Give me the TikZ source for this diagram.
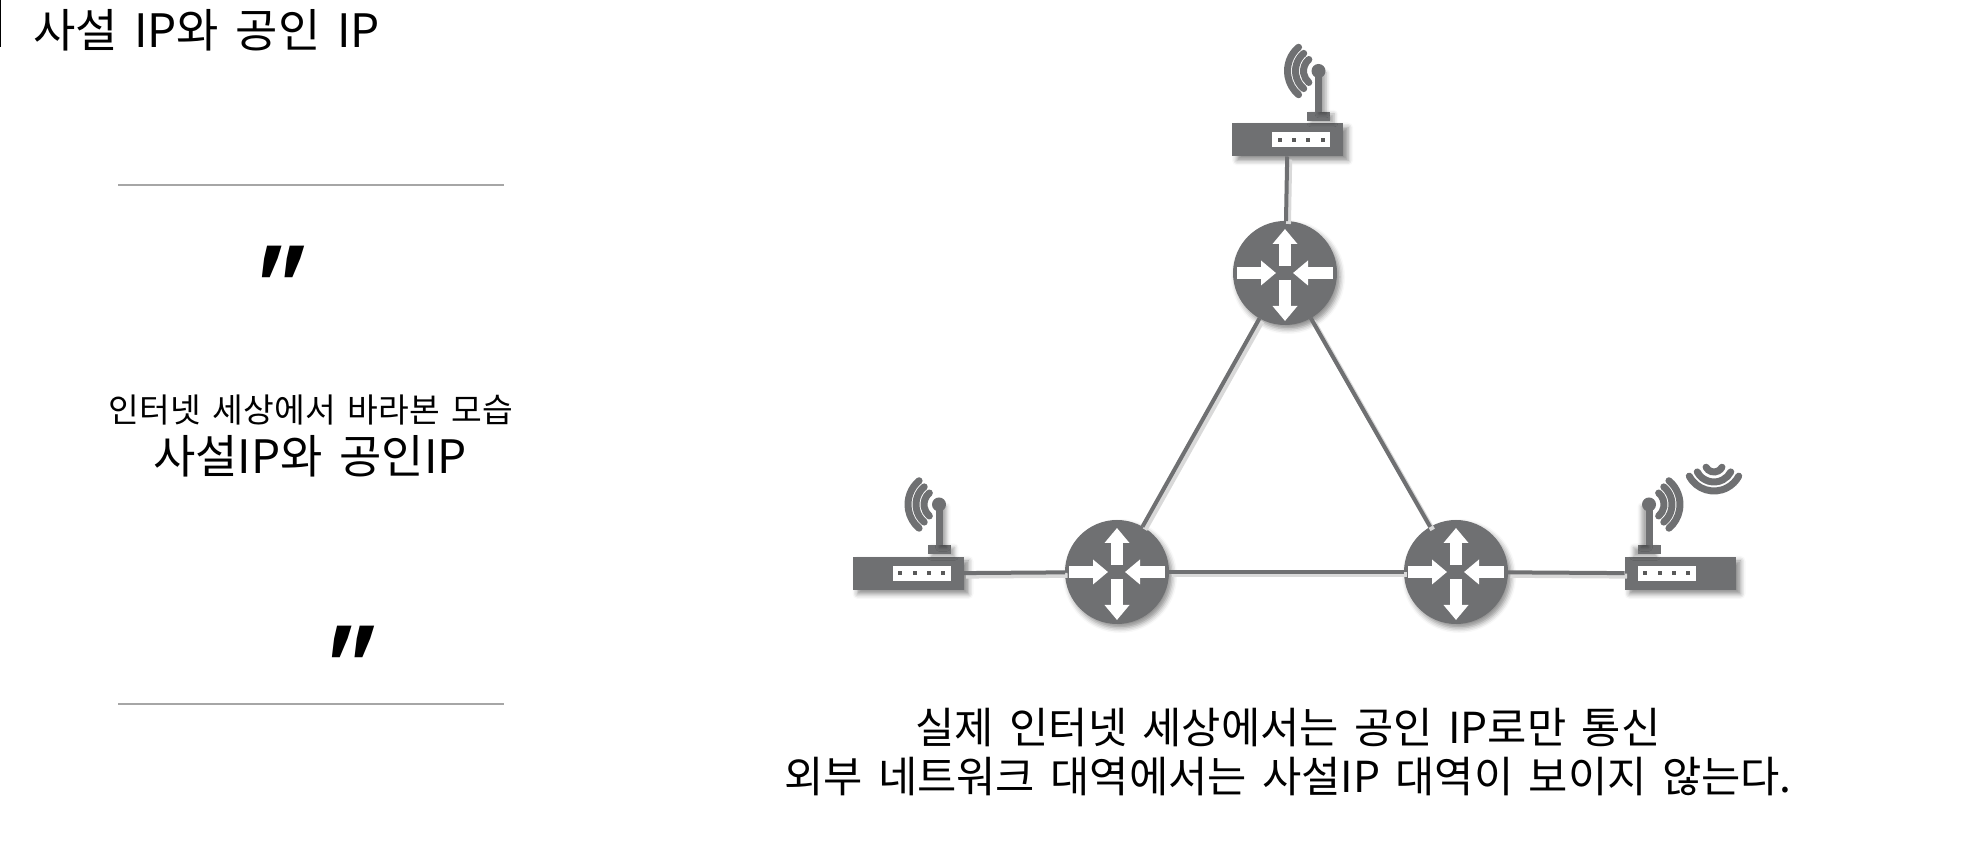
\documentclass[tikz,border=0pt]{standalone}
\usepackage{fontspec}
\setmainfont[WordSpace=1.6]{Noto Sans CJK KR}
\newfontfamily\quotefont{Noto Sans CJK KR}
\usetikzlibrary{arrows.meta,shadows.blur}
\definecolor{netgray}{HTML}{6F7072}

\begin{document}
\begin{tikzpicture}[thick,
  router node/.style={circle,fill=netgray,minimum size=1.04cm,inner sep=0pt,outer sep=0pt,
    blur shadow={shadow xshift=.03cm,shadow yshift=-.04cm,shadow blur radius=.05cm,shadow opacity=45}},
  box node/.style={rectangle,fill=netgray,minimum width=1.11cm,minimum height=.33cm,inner sep=0pt,outer sep=0pt,
    blur shadow={shadow xshift=.05cm,shadow yshift=-.04cm,shadow blur radius=.05cm,shadow opacity=45}},
  link/.style={draw=netgray,line width=.04cm,
    preaction={draw=black!15,line width=.05cm,transform canvas={shift={(.025,-.03)}}}},
  move arrow/.style={draw=white,line width=.115cm,-{Triangle[length=.15cm,width=.24cm]}},
  wave/.style={draw=netgray,line width=.07cm,line cap=round},
  rule/.style={draw=black!35,line width=.02cm},
  quote mark/.style={font=\quotefont\fontsize{23}{23}\selectfont\bfseries,xslant=.27,transform shape,inner sep=0pt}]

  \useasboundingbox (0,0) rectangle (19.88,8.46);

  \node[router node] (R1) at (12.85,5.73) {};
  \node[router node] (R2) at (11.17,2.74) {};
  \node[router node] (R3) at (14.56,2.74) {};
  \node[box node]    (A1) at (12.875,7.06) {};
  \node[box node]    (A2) at (9.08,2.725) {};
  \node[box node]    (A3) at (16.80,2.725) {};

  \path
    (R1) edge[link] (R2)
    (R1) edge[link] (R3)
    (R2) edge[link] (R3)
    (A1) edge[link] (R1)
    (A2) edge[link] (R2)
    (A3) edge[link] (R3);

  \foreach \r in {R1,R2,R3} {
    \draw[move arrow] ([yshift=.07cm]\r.center) -- ([yshift=.44cm]\r.center);
    \draw[move arrow] ([yshift=-.07cm]\r.center) -- ([yshift=-.48cm]\r.center);
    \draw[move arrow] ([xshift=-.48cm]\r.center) -- ([xshift=-.09cm]\r.center);
    \draw[move arrow] ([xshift=.48cm]\r.center) -- ([xshift=.08cm]\r.center);
  }

  % ports and antenna, the third one is mirrored
  \foreach \b/\s in {A1/1,A2/1,A3/-1} {
    \begin{scope}[shift={(\b)},xscale=\s]
      \fill[netgray,blur shadow={shadow xshift=\s*.04cm,shadow yshift=-.02cm,shadow blur radius=.04cm,shadow opacity=35}]
        (.195,.19) rectangle (.425,.28);
      \fill[netgray,blur shadow={shadow xshift=\s*.04cm,shadow yshift=-.02cm,shadow blur radius=.04cm,shadow opacity=35}]
        (.275,.28) rectangle (.345,.69);
      \fill[netgray] (.31,.69) circle (.07);
      \fill[white] (-.155,-.075) rectangle (.425,.075);
      \foreach \d in {-.215,-.07,.07,.215} {
        \fill[black!65] (.135+\d-.02,-.02) rectangle (.135+\d+.02,.02);
      }
      \foreach \w in {.15,.23,.31} {
        \draw[wave] (.31,.69) ++(130:\w) arc (130:230:\w);
      }
    \end{scope}
  }

  \foreach \w in {.09,.19,.28} {
    \draw[wave] (17.14,3.83) ++(208:\w) arc (208:332:\w);
  }

  \fill[black] (0,7.99) rectangle (.015,8.46);
  \node[font=\fontsize{13.1}{15}\selectfont,anchor=west] (title) at (.20,8.16) {사설 IP와 공인 IP};

  \draw[rule] (1.18,6.61) -- (5.04,6.61);
  \draw[rule] (1.18,1.42) -- (5.04,1.42);
  \node[quote mark] (open) at (2.78,5.68) {"};
  \node[quote mark] (close) at (3.48,1.88) {"};

  \node[font=\fontsize{9.5}{11}\selectfont] (side1) at (3.11,4.36) {인터넷 세상에서 바라본 모습};
  \node[font=\fontsize{13.1}{15}\selectfont] (side2) at (3.10,3.90) {사설IP와 공인IP};

  \node[font=\fontsize{12.15}{13.9}\selectfont,align=center] (caption) at (12.88,0.94)
    {실제 인터넷 세상에서는 공인 IP로만 통신\\외부 네트워크 대역에서는 사설IP 대역이 보이지 않는다.};

\end{tikzpicture}
\end{document}
